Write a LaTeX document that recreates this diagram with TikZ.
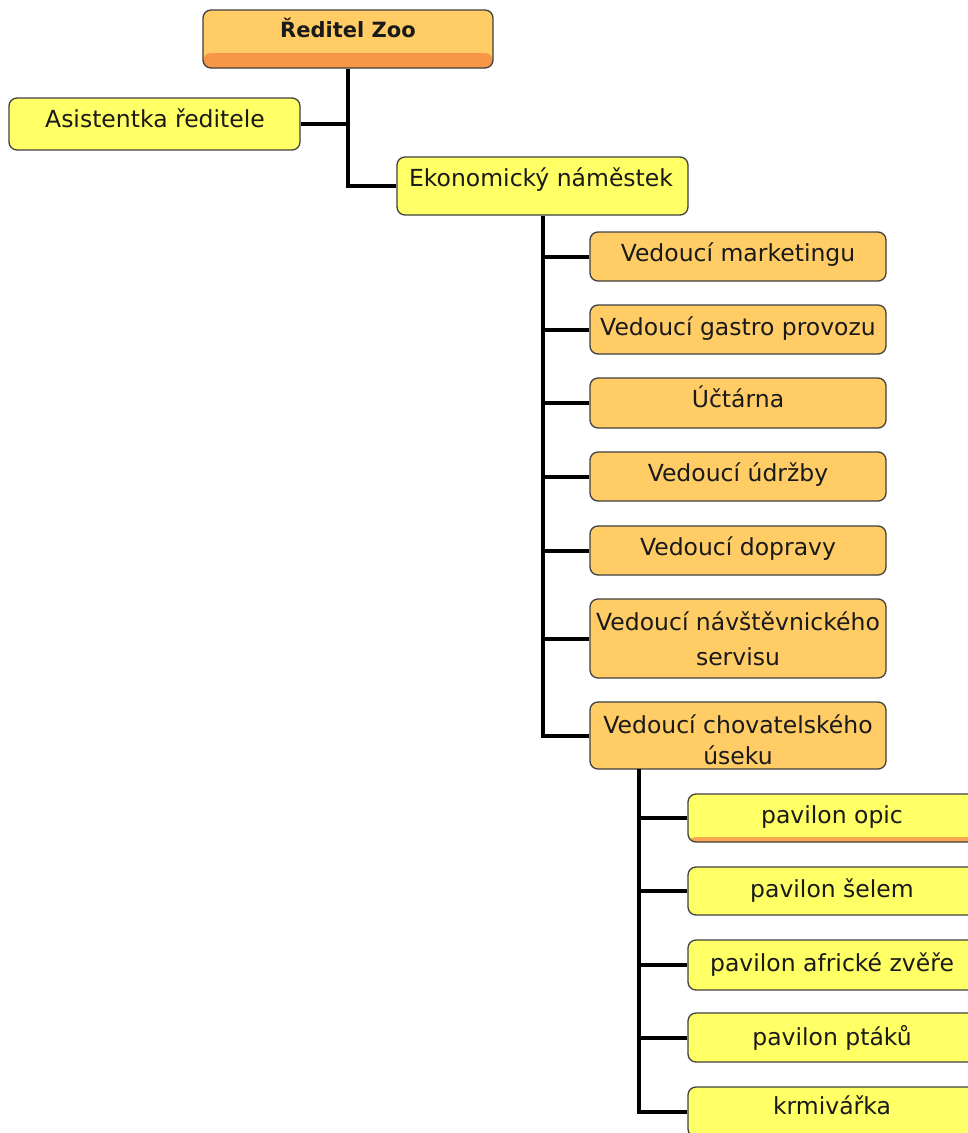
\documentclass[tikz,border=0pt]{standalone}
\usepackage{fontspec}
\setmainfont{DejaVu Sans}
\definecolor{olight}{HTML}{FFCC66}
\definecolor{odark}{HTML}{F79646}
\definecolor{ylight}{HTML}{FFFF66}
\definecolor{boxline}{HTML}{404040}
\definecolor{txtc}{HTML}{1A1A1A}
\tikzset{
  boxbase/.style={draw=boxline, line width=1.3pt, rounded corners=8pt, inner sep=0pt},
  obox/.style={boxbase, fill=olight},
  ybox/.style={boxbase, fill=ylight},
  txt/.style={anchor=base, inner sep=0pt, text=txtc, font=\fontsize{23.5}{27}\selectfont},
  btxt/.style={anchor=base, inner sep=0pt, text=txtc, font=\fontsize{21}{25}\selectfont\bfseries},
  conn/.style={line width=4pt, black}
}
\begin{document}
\begin{tikzpicture}[x=1pt,y=-1pt]
\useasboundingbox (0,0) rectangle (968,1133);
\clip (0,0) rectangle (968,1133);
\coordinate (pv) at (639,769);
% boxes
\node[obox, minimum width=290pt, minimum height=58pt,
  path picture={\fill[odark] (path picture bounding box.south west) rectangle ([yshift=15pt]path picture bounding box.south east);}] (dir) at (348,39) {};
\node[ybox, minimum width=291pt, minimum height=52pt] (asi) at (154.5,124) {};
\node[ybox, minimum width=291pt, minimum height=58pt] (eko) at (542.5,186) {};
\node[obox, minimum width=296pt, minimum height=49pt] (m1) at (738,256.5) {};
\node[obox, minimum width=296pt, minimum height=49pt] (m2) at (738,329.5) {};
\node[obox, minimum width=296pt, minimum height=50pt] (m3) at (738,403) {};
\node[obox, minimum width=296pt, minimum height=49pt] (m4) at (738,476.5) {};
\node[obox, minimum width=296pt, minimum height=49pt] (m5) at (738,550.5) {};
\node[obox, minimum width=296pt, minimum height=79pt] (m6) at (738,638.5) {};
\node[obox, minimum width=296pt, minimum height=67pt] (m7) at (738,735.5) {};
\node[ybox, minimum width=288pt, minimum height=48pt,
  path picture={\fill[odark!70!olight] (path picture bounding box.south west) rectangle ([yshift=5pt]path picture bounding box.south east);}] (p1) at (832,818) {};
\node[ybox, minimum width=288pt, minimum height=48pt] (p2) at (832,891) {};
\node[ybox, minimum width=288pt, minimum height=50pt] (p3) at (832,965) {};
\node[ybox, minimum width=288pt, minimum height=49pt] (p4) at (832,1037.5) {};
\node[ybox, minimum width=288pt, minimum height=50pt] (p5) at (832,1112) {};
% connectors
\draw[conn] (dir.south) -- (dir.south |- eko.west) -- (eko.west);
\draw[conn] (asi.east) -- (asi.east -| dir.south);
\draw[conn] (eko.south) -- (eko.south |- m7.west) -- (m7.west);
\foreach \m in {m1,m2,m3,m4,m5,m6}{
  \draw[conn] (\m.west -| eko.south) -- (\m.west);
}
\draw[conn] (pv) -- (pv |- p5.west) -- (p5.west);
\foreach \p in {p1,p2,p3,p4}{
  \draw[conn] (\p.west -| pv) -- (\p.west);
}
% texts
\node[btxt] (tdir) at (348,37) {Ředitel Zoo};
\node[txt] (tasi) at (155,127) {Asistentka ředitele};
\node[txt] (teko) at (541,186) {Ekonomický náměstek};
\node[txt] (tm1) at (738,261) {Vedoucí marketingu};
\node[txt] (tm2) at (738,335) {Vedoucí gastro provozu};
\node[txt] (tm3) at (738,407) {Účtárna};
\node[txt] (tm4) at (738,481) {Vedoucí údržby};
\node[txt] (tm5) at (738,555) {Vedoucí dopravy};
\node[txt] (tm6a) at (738,630) {Vedoucí návštěvnického};
\node[txt] (tm6b) at (738,665) {servisu};
\node[txt] (tm7a) at (738,733) {Vedoucí chovatelského};
\node[txt] (tm7b) at (738,764) {úseku};
\node[txt] (tp1) at (832,823) {pavilon opic};
\node[txt] (tp2) at (832,897) {pavilon šelem};
\node[txt] (tp3) at (832,971) {pavilon africké zvěře};
\node[txt] (tp4) at (832,1045) {pavilon ptáků};
\node[txt] (tp5) at (832,1114) {krmivářka};
\end{tikzpicture}
\end{document}
